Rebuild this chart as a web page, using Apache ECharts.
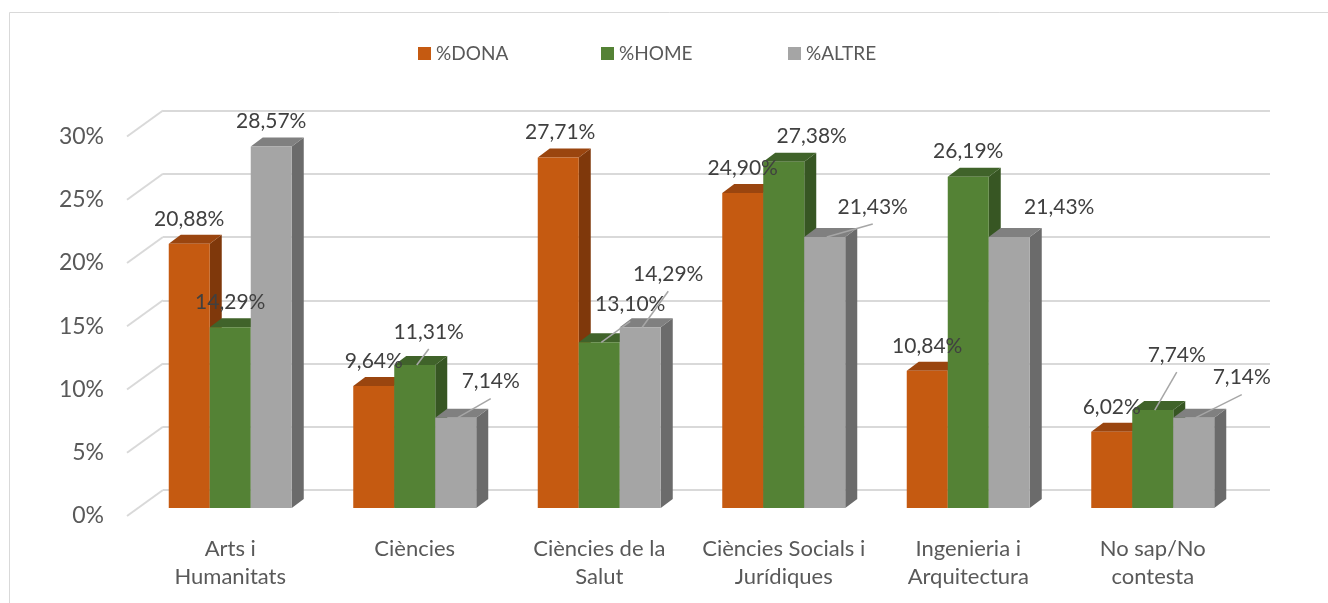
<!DOCTYPE html>
<html><head><meta charset="utf-8">
<script src="https://cdn.jsdelivr.net/npm/echarts@6/dist/echarts.min.js"></script>
<style>html,body{margin:0;padding:0;background:#fff}#c{width:1328px;height:603px}</style>
</head><body><div id="c"></div>
<script>
// ---- data ----
const categories = ['Arts i\nHumanitats', 'Ciències', 'Ciències de la\nSalut', 'Ciències Socials i\nJurídiques', 'Ingenieria i\nArquitectura', 'No sap/No\ncontesta'];
const seriesNames = ['%DONA', '%HOME', '%ALTRE'];
const dona  = [20.88, 9.64, 27.71, 24.90, 10.84, 6.02];
const home  = [14.29, 11.31, 13.10, 27.38, 26.19, 7.74];
const altre = [28.57, 7.14, 14.29, 21.43, 21.43, 7.14];
const yTicks = [0, 5, 10, 15, 20, 25, 30];

// ---- styling ----
const FONT = 'Lato';
const BAR_FRAC = 41 / 184.5;
const DX = 12, DY = -9;           // bar depth
const WALL_DX = 36, WALL_DY = -26; // floor/side wall depth
const palettes = [
  {front: '#C55A11', top: '#9A450F', side: '#7F380B'},
  {front: '#548235', top: '#40632A', side: '#375623'},
  {front: '#A5A5A5', top: '#808080', side: '#6B6B6B'}
];
const legendLefts = [413, 596, 783];
// label displacement (px) from default spot above bar, and leader visibility
const labelShift = [
  [[0,0],[0,0],[2,0],[0,0],[0,0],[0,0]],
  [[0,0],[14,-8],[31,-13],[28,0],[0,0],[24,-30]],
  [[0,0],[35,-11],[28,-28],[48,-5],[50,-5],[48,-15]]
];
const showLeader = [
  [false,false,false,false,false,false],
  [false,true,true,false,false,true],
  [false,true,true,true,false,true]
];

const values = [dona, home, altre];
const fmt = v => v.toFixed(2).replace('.', ',') + '%';

function barSeries(idx) {
  const col = palettes[idx];
  return {
    type: 'custom', name: seriesNames[idx], xAxisIndex: 0, yAxisIndex: 0,
    data: values[idx].map((v, i) => [i, v]),
    itemStyle: {color: col.front},
    z: 3 + idx,
    renderItem(params, api) {
      const c = api.value(0), v = api.value(1);
      const top = api.coord([c, v]), base = api.coord([c, 0]);
      const band = api.size([1, 0])[0];
      const w = band * BAR_FRAC;
      const x0 = top[0] + (idx - 1.5) * w, x1 = x0 + w;
      const yT = top[1], yB = base[1];
      return {type: 'group', children: [
        {type: 'polygon', shape: {points: [[x1, yB], [x1 + DX, yB + DY], [x1 + DX, yT + DY], [x1, yT]]}, style: {fill: col.side}},
        {type: 'polygon', shape: {points: [[x0, yT], [x0 + DX, yT + DY], [x1 + DX, yT + DY], [x1, yT]]}, style: {fill: col.top}},
        {type: 'rect', shape: {x: x0, y: yT, width: w, height: yB - yT}, style: {fill: col.front}}
      ]};
    }
  };
}

function labelSeries(idx) {
  return {
    type: 'custom', name: 'lbl' + idx, xAxisIndex: 0, yAxisIndex: 0,
    data: values[idx].map((v, i) => [i, v]),
    z: 20, silent: true,
    renderItem(params, api) {
      const c = api.value(0), v = api.value(1);
      const top = api.coord([c, v]);
      const band = api.size([1, 0])[0];
      const w = band * BAR_FRAC;
      const cx = top[0] + (idx - 1) * w;
      const sh = labelShift[idx][c];
      const lx = cx + sh[0], ly = top[1] - 25 + sh[1];
      const children = [];
      if (showLeader[idx][c]) {
        children.push({type: 'line', shape: {x1: lx, y1: ly + 17, x2: cx + 2, y2: top[1]}, style: {stroke: '#A6A6A6', lineWidth: 1.5}});
      }
      children.push({type: 'text', style: {text: fmt(v), x: lx, y: ly, align: 'center', verticalAlign: 'middle', font: '21px ' + FONT, fill: '#404040'}});
      return {type: 'group', children};
    }
  };
}

const chart = echarts.init(document.getElementById('c'), null, {renderer: 'canvas'});
chart.setOption({
  animation: false,
  backgroundColor: '#fff',
  graphic: [{type: 'rect', shape: {x: 9.5, y: 12.5, width: 1340, height: 620}, style: {fill: 'none', stroke: '#D9D9D9', lineWidth: 1}, z: -10}],
  legend: seriesNames.map((n, i) => ({
    data: [n], left: legendLefts[i], top: 39, icon: 'rect', itemWidth: 13, itemHeight: 13,
    textStyle: {fontFamily: FONT, fontSize: 19, color: '#595959'}
  })),
  grid: [
    {left: 138, right: 83, top: 128.5, bottom: 95},   // bar plane
    {left: 163, right: 58, top: 110.5, bottom: 113},  // back wall
    {left: 127, right: 94, top: 136.5, bottom: 87}    // front edge
  ],
  xAxis: [
    {gridIndex: 0, type: 'category', data: categories, axisLine: {show: false}, axisTick: {show: false},
     axisLabel: {fontFamily: FONT, fontSize: 22, color: '#595959', lineHeight: 28, margin: 27, interval: 0}},
    {gridIndex: 1, type: 'category', data: categories, show: false},
    {gridIndex: 2, type: 'value', min: 0, max: 1, show: false}
  ],
  yAxis: [
    {gridIndex: 0, type: 'value', min: 0, max: 30, interval: 5, show: false},
    {gridIndex: 1, type: 'value', min: 0, max: 30, interval: 5, axisLabel: {show: false}, axisLine: {show: false}, axisTick: {show: false},
     splitLine: {show: true, lineStyle: {color: '#D9D9D9', width: 2}}},
    {gridIndex: 2, type: 'value', min: 0, max: 30, interval: 5, axisLine: {show: false}, axisTick: {show: false}, splitLine: {show: false},
     axisLabel: {formatter: '{value}%', margin: 23, fontFamily: FONT, fontSize: 23, color: '#595959'}}
  ],
  series: [
    {
      type: 'custom', name: 'wall', xAxisIndex: 2, yAxisIndex: 2, silent: true, z: 1,
      data: yTicks.map(t => [0, t]),
      renderItem(params, api) {
        const p = api.coord([0, api.value(1)]);
        return {type: 'line', shape: {x1: p[0], y1: p[1], x2: p[0] + WALL_DX, y2: p[1] + WALL_DY}, style: {stroke: '#D9D9D9', lineWidth: 2}};
      }
    },
    barSeries(0), barSeries(1), barSeries(2),
    labelSeries(0), labelSeries(1), labelSeries(2)
  ]
});
</script>
</body></html>
